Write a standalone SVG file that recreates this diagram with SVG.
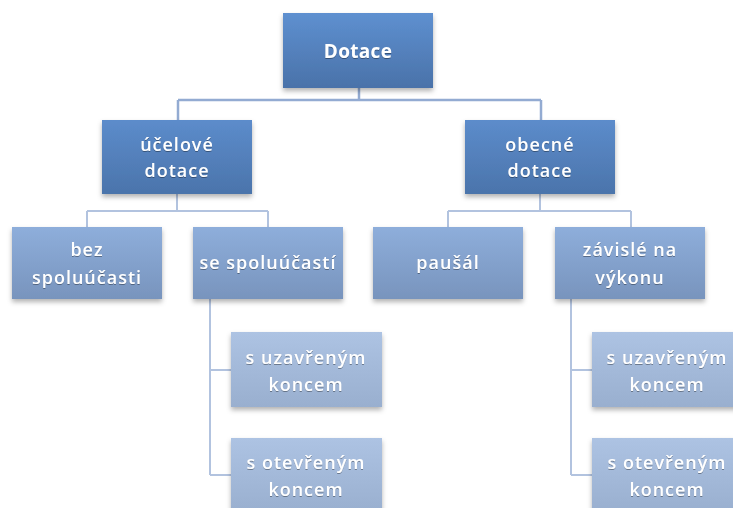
<svg xmlns="http://www.w3.org/2000/svg" width="733" height="508" viewBox="0 0 733 508">
<defs>
<linearGradient id="g0" x1="0" y1="0" x2="0" y2="1"><stop offset="0" stop-color="#5e90d0"/><stop offset="1" stop-color="#4a72a9"/></linearGradient>
<linearGradient id="g1" x1="0" y1="0" x2="0" y2="1"><stop offset="0" stop-color="#5c8ccb"/><stop offset="1" stop-color="#4b74ab"/></linearGradient>
<linearGradient id="g2" x1="0" y1="0" x2="0" y2="1"><stop offset="0" stop-color="#8eaedb"/><stop offset="1" stop-color="#7894bd"/></linearGradient>
<linearGradient id="g3" x1="0" y1="0" x2="0" y2="1"><stop offset="0" stop-color="#adc3e3"/><stop offset="1" stop-color="#99afcf"/></linearGradient>
<filter id="sh" x="-10%" y="-10%" width="125%" height="135%"><feDropShadow dx="0" dy="3" stdDeviation="2.5" flood-color="#000" flood-opacity="0.3"/></filter>
<filter id="ts" x="-10%" y="-20%" width="120%" height="150%"><feDropShadow dx="0" dy="1" stdDeviation="0.6" flood-color="#000" flood-opacity="0.35"/></filter>
</defs>
<style>
.b0{fill:url(#g0);filter:url(#sh)}
.b1{fill:url(#g1);filter:url(#sh)}
.b2{fill:url(#g2);filter:url(#sh)}
.b3{fill:url(#g3);filter:url(#sh)}
text{font-family:"Open Sans","Liberation Sans",sans-serif;font-size:18px;font-weight:600;fill:#fff;text-anchor:middle;letter-spacing:1px;filter:url(#ts)}
.bold{font-weight:bold;font-size:19px;letter-spacing:0.3px}
.c1{stroke:#93abd2;stroke-width:2.5;fill:none}
.c2{stroke:#b2c3df;stroke-width:2;fill:none}
</style>
<rect width="733" height="508" fill="#fff"/>
<g id="connectors">
<path class="c1" d="M359 88V100M178 100H541M178 100V120M541 100V120"/>
<path class="c2" d="M177 194V211M87 211H268M87 211V227M268 211V227"/>
<path class="c2" d="M540 194V211M448 211H631M448 211V227M631 211V227"/>
<path class="c2" d="M210 299V475M210 370H231M210 475H231"/>
<path class="c2" d="M571 299V475M571 370H592M571 475H592"/>
</g>
<g id="n-dotace"><rect class="b0" x="283" y="13" width="150" height="75"/><text class="bold" x="358" y="58">Dotace</text></g>
<g id="n-ucelove"><rect class="b1" x="102" y="120" width="150" height="74"/><text x="177" y="151">účelové</text><text x="177" y="177">dotace</text></g>
<g id="n-obecne"><rect class="b1" x="465" y="120" width="150" height="74"/><text x="540" y="151">obecné</text><text x="540" y="177">dotace</text></g>
<g id="n-bez"><rect class="b2" x="12" y="227" width="150" height="72"/><text x="87" y="256">bez</text><text x="87" y="284">spoluúčasti</text></g>
<g id="n-se"><rect class="b2" x="193" y="227" width="150" height="72"/><text x="268" y="269">se spoluúčastí</text></g>
<g id="n-pausal"><rect class="b2" x="373" y="227" width="150" height="72"/><text x="448" y="269">paušál</text></g>
<g id="n-zavisle"><rect class="b2" x="555" y="227" width="150" height="72"/><text x="630" y="256">závislé na</text><text x="630" y="284">výkonu</text></g>
<g id="n-se-uz"><rect class="b3" x="231" y="332" width="151" height="75"/><text x="306" y="364">s uzavřeným</text><text x="306" y="391">koncem</text></g>
<g id="n-se-ot"><rect class="b3" x="231" y="438" width="151" height="75"/><text x="306" y="469">s otevřeným</text><text x="306" y="496">koncem</text></g>
<g id="n-za-uz"><rect class="b3" x="592" y="332" width="151" height="75"/><text x="667" y="364">s uzavřeným</text><text x="667" y="391">koncem</text></g>
<g id="n-za-ot"><rect class="b3" x="592" y="438" width="151" height="75"/><text x="667" y="469">s otevřeným</text><text x="667" y="496">koncem</text></g>
</svg>
